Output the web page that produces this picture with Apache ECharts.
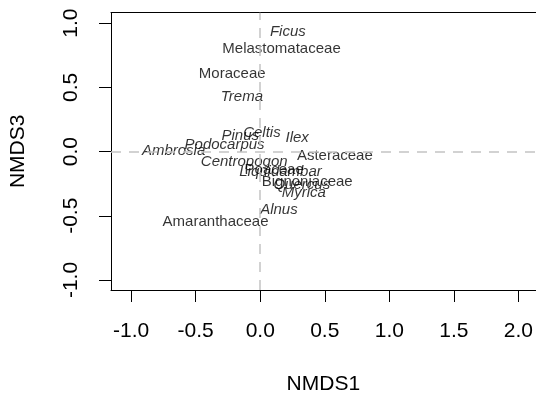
<!DOCTYPE html>
<html>
<head>
<meta charset="utf-8">
<script src="https://cdn.jsdelivr.net/npm/echarts@6/dist/echarts.min.js"></script>
<style>html,body{margin:0;padding:0;background:#fff}#c{width:536px;height:400px}</style>
</head>
<body>
<div id="c"></div>
<script>
// Genera (italic labels)
const genusNames = ['Ficus','Trema','Celtis','Pinus','Ilex','Podocarpus','Ambrosia','Centropogon','Liquidambar','Quercus','Myrica','Alnus'];
const genusX = [0.214, -0.142, 0.013, -0.155, 0.286, -0.276, -0.671, -0.124, 0.157, 0.322, 0.338, 0.145];
const genusY = [0.931, 0.427, 0.147, 0.122, 0.109, 0.052, 0.002, -0.080, -0.155, -0.261, -0.321, -0.455];
// Families (upright labels)
const familyNames = ['Melastomataceae','Moraceae','Asteraceae','Poaceae','Bignoniaceae','Amaranthaceae'];
const familyX = [0.165, -0.217, 0.578, 0.108, 0.364, -0.346];
const familyY = [0.797, 0.605, -0.031, -0.140, -0.233, -0.551];
// Axis ticks
const xTicks = [-1.0, -0.5, 0.0, 0.5, 1.0, 1.5, 2.0];
const yTicks = [-1.0, -0.5, 0.0, 0.5, 1.0];

const FONT = 'Liberation Sans, Arial, Helvetica, sans-serif';
const chart = echarts.init(document.getElementById('c'), null, {renderer: 'canvas'});

function pts(names, xs, ys) {
  return names.map((n, i) => ({name: n, value: [xs[i], ys[i]]}));
}
function labelSeries(names, xs, ys, style) {
  return {
    type: 'scatter',
    symbol: 'circle',
    symbolSize: 0,
    itemStyle: {color: '#000'},
    silent: true,
    data: pts(names, xs, ys),
    label: {
      show: true,
      position: 'inside',
      formatter: p => p.name,
      color: '#000',
      textBorderWidth: 0,
      fontSize: 15,
      fontStyle: style,
      fontFamily: FONT
    },
    labelLayout: {hideOverlap: false}
  };
}

const axisLabelBase = {color: '#000', fontSize: 21, fontFamily: FONT, formatter: v => v.toFixed(1)};
const XMIN = -1.156, XMAX = 2.1334, YMIN = -1.078, YMAX = 1.081;

chart.setOption({
  animation: false,
  backgroundColor: '#fff',
  grid: {left: 111, top: 12.7, right: 0, bottom: 109, show: false},
  xAxis: [{
    type: 'value', min: XMIN, max: XMAX, position: 'bottom',
    name: 'NMDS1', nameLocation: 'middle', nameGap: 84,
    nameTextStyle: {color: '#000', fontSize: 21, fontFamily: FONT},
    axisLine: {show: true, onZero: false, lineStyle: {color: '#000', width: 1}},
    axisTick: {show: true, length: 12, customValues: xTicks, lineStyle: {color: '#000', width: 1}},
    axisLabel: Object.assign({customValues: xTicks, margin: 31}, axisLabelBase),
    splitLine: {show: false}
  }, {
    type: 'value', min: XMIN, max: XMAX, position: 'top',
    axisLine: {show: true, onZero: false, lineStyle: {color: '#000', width: 1}},
    axisTick: {show: false}, axisLabel: {show: false}, splitLine: {show: false}
  }],
  yAxis: {
    type: 'value', min: YMIN, max: YMAX,
    name: 'NMDS3', nameLocation: 'middle', nameGap: 82,
    nameTextStyle: {color: '#000', fontSize: 21, fontFamily: FONT},
    axisLine: {show: true, onZero: false, lineStyle: {color: '#000', width: 1}},
    axisTick: {show: true, length: 12, customValues: yTicks, lineStyle: {color: '#000', width: 1}},
    axisLabel: Object.assign({customValues: yTicks, margin: 29, rotate: 90}, axisLabelBase),
    splitLine: {show: false}
  },
  series: [
    {
      type: 'scatter', data: [], silent: true,
      markLine: {
        silent: true, symbol: ['none', 'none'], label: {show: false},
        lineStyle: {color: '#c4c4c4', type: [10, 8], width: 1.5},
        data: [{xAxis: 0}, {yAxis: 0}]
      }
    },
    labelSeries(genusNames, genusX, genusY, 'italic'),
    labelSeries(familyNames, familyX, familyY, 'normal')
  ]
});
</script>
</body>
</html>
